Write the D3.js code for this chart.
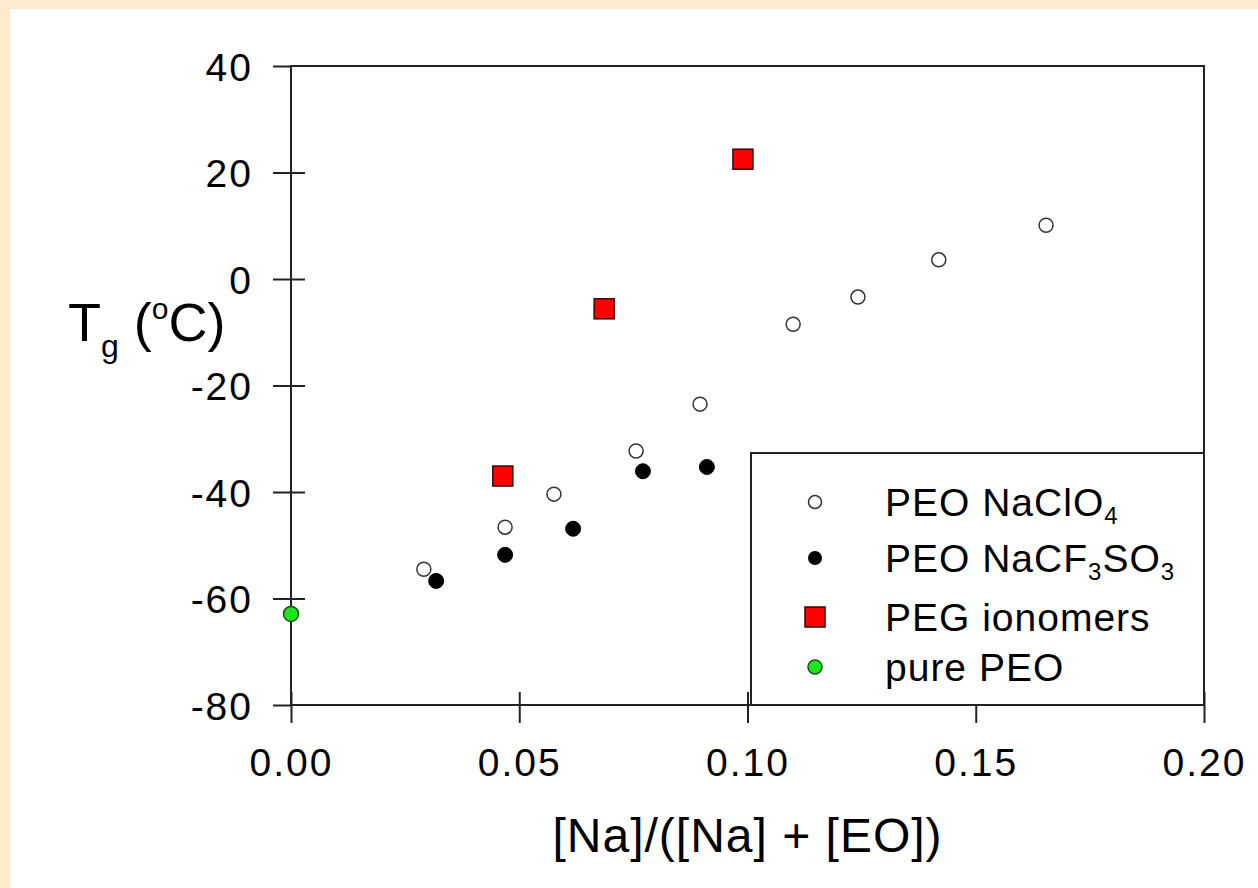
<!DOCTYPE html>
<html>
<head>
<meta charset="utf-8">
<script src="https://cdn.jsdelivr.net/npm/d3@7"></script>
<style>
  html, body { margin: 0; padding: 0; background: #fff; }
  svg { display: block; }
  text { font-family: "Liberation Sans", Arial, sans-serif; fill: #000; }
</style>
</head>
<body>
<svg id="chart" width="1258" height="888"></svg>
<script>
// ---- data ----
const naclo4X = [0.0291, 0.0469, 0.0576, 0.0756, 0.0896, 0.1100, 0.1242, 0.1419, 0.1654];
const naclo4Y = [-54.5, -46.6, -40.4, -32.3, -23.5, -8.5, -3.4, 3.6, 10.1];
const nacf3so3X = [0.0318, 0.0469, 0.0618, 0.0771, 0.0911];
const nacf3so3Y = [-56.7, -51.8, -46.9, -36.1, -35.3];
const pegX = [0.0464, 0.0686, 0.0990];
const pegY = [-37.0, -5.6, 22.5];
const pureX = [0.0];
const pureY = [-62.9];
const xTicks = [0, 0.05, 0.10, 0.15, 0.20];
const yTicks = [-80, -60, -40, -20, 0, 20, 40];
const legendLabels = [
  {main: "PEO NaClO", sub: "4", tail: "", sub2: ""},
  {main: "PEO NaCF", sub: "3", tail: "SO", sub2: "3"},
  {main: "PEG ionomers", sub: "", tail: "", sub2: ""},
  {main: "pure PEO", sub: "", tail: "", sub2: ""}
];

const svg = d3.select("#chart");
// background
svg.append("rect").attr("x", 0).attr("y", 0).attr("width", 1258).attr("height", 888).attr("fill", "#feebcf");
svg.append("rect").attr("x", 10).attr("y", 9).attr("width", 1248).attr("height", 879).attr("fill", "#ffffff");

const x = d3.scaleLinear().domain([0, 0.2]).range([291, 1204]);
const y = d3.scaleLinear().domain([-80, 40]).range([705, 66]);

const frameColor = "#222";

// x axis
const gx = svg.append("g").attr("transform", `translate(0,${y(-80)})`)
  .call(d3.axisBottom(x).tickValues(xTicks).tickFormat(d => d.toFixed(2)).tickSize(18));
gx.select(".domain").remove();
gx.selectAll(".tick line").attr("y1", -13).attr("y2", 18).attr("stroke", frameColor).attr("stroke-width", 2);
gx.selectAll(".tick text").attr("y", 71).attr("dy", null)
  .style("font-size", "39px").style("letter-spacing", "2px").attr("fill", "#000");

// y axis
const gy = svg.append("g").attr("transform", `translate(${x(0)},0)`)
  .call(d3.axisLeft(y).tickValues(yTicks).tickFormat(d => String(d)).tickSize(18));
gy.select(".domain").remove();
gy.selectAll(".tick line").attr("x1", -18).attr("x2", 14).attr("stroke", frameColor).attr("stroke-width", 2);
gy.selectAll(".tick line").filter(d => d === 40 || d === -80).attr("x2", 0);
gy.selectAll(".tick text").attr("x", -38).attr("dy", "0.36em")
  .style("font-size", "39px").style("letter-spacing", "2px").attr("fill", "#000");

// frame
svg.append("rect")
  .attr("x", x(0)).attr("y", y(40))
  .attr("width", x(0.2) - x(0)).attr("height", y(-80) - y(40))
  .attr("fill", "none").attr("stroke", frameColor).attr("stroke-width", 2);

// legend box
const lg = svg.append("g");
lg.append("rect").attr("x", 751).attr("y", 453)
  .attr("width", x(0.2) - 751).attr("height", y(-80) - 453)
  .attr("fill", "#fff").attr("stroke", frameColor).attr("stroke-width", 2);

// points
const pts = svg.append("g");
pts.selectAll("circle.open").data(d3.zip(naclo4X, naclo4Y)).join("circle")
  .attr("class", "open")
  .attr("cx", d => x(d[0])).attr("cy", d => y(d[1])).attr("r", 7)
  .attr("fill", "#fff").attr("stroke", "#333").attr("stroke-width", 1.5);
pts.selectAll("circle.filled").data(d3.zip(nacf3so3X, nacf3so3Y)).join("circle")
  .attr("class", "filled")
  .attr("cx", d => x(d[0])).attr("cy", d => y(d[1])).attr("r", 7.5)
  .attr("fill", "#000").attr("stroke", "#000").attr("stroke-width", 1);
const sq = 20;
pts.selectAll("rect.peg").data(d3.zip(pegX, pegY)).join("rect")
  .attr("class", "peg")
  .attr("x", d => x(d[0]) - sq / 2).attr("y", d => y(d[1]) - sq / 2)
  .attr("width", sq).attr("height", sq)
  .attr("fill", "#ff0000").attr("stroke", "#3a0000").attr("stroke-width", 1.5);
pts.selectAll("circle.pure").data(d3.zip(pureX, pureY)).join("circle")
  .attr("class", "pure")
  .attr("cx", d => x(d[0])).attr("cy", d => y(d[1])).attr("r", 7.5)
  .attr("fill", "#1ee61e").attr("stroke", "#145214").attr("stroke-width", 1.5);

// legend entries
const legY = [502, 558, 617, 667];
const symX = 815;
lg.append("circle").attr("cx", symX).attr("cy", legY[0]).attr("r", 6.5)
  .attr("fill", "#fff").attr("stroke", "#333").attr("stroke-width", 1.5);
lg.append("circle").attr("cx", symX).attr("cy", legY[1]).attr("r", 7)
  .attr("fill", "#000");
lg.append("rect").attr("x", symX - 10).attr("y", legY[2] - 10).attr("width", 20).attr("height", 20)
  .attr("fill", "#ff0000").attr("stroke", "#3a0000").attr("stroke-width", 1.5);
lg.append("circle").attr("cx", symX).attr("cy", legY[3]).attr("r", 7)
  .attr("fill", "#1ee61e").attr("stroke", "#145214").attr("stroke-width", 1.5);

legendLabels.forEach((l, i) => {
  const t = lg.append("text").attr("x", 885).attr("y", legY[i] + 14)
    .style("font-size", "39px").style("letter-spacing", "1px");
  t.append("tspan").text(l.main);
  if (l.sub) t.append("tspan").attr("dy", 8).style("font-size", "24px").text(l.sub);
  if (l.tail) t.append("tspan").attr("dy", -8).style("font-size", "39px").text(l.tail);
  if (l.sub2) t.append("tspan").attr("dy", 8).style("font-size", "24px").text(l.sub2);
});

// axis titles
svg.append("text").attr("x", (x(0) + x(0.2)) / 2).attr("y", 852)
  .attr("text-anchor", "middle").style("font-size", "48px").style("letter-spacing", "1px")
  .text("[Na]/([Na] + [EO])");

const yt = svg.append("text").attr("x", 68).attr("y", 341).style("font-size", "54px");
yt.append("tspan").text("T");
yt.append("tspan").attr("dy", 16).style("font-size", "32px").text("g");
yt.append("tspan").attr("dy", -16).style("font-size", "54px").text(" (");
yt.append("tspan").attr("dy", -22).style("font-size", "30px").text("o");
yt.append("tspan").attr("dy", 22).style("font-size", "54px").text("C)");
</script>
</body>
</html>
